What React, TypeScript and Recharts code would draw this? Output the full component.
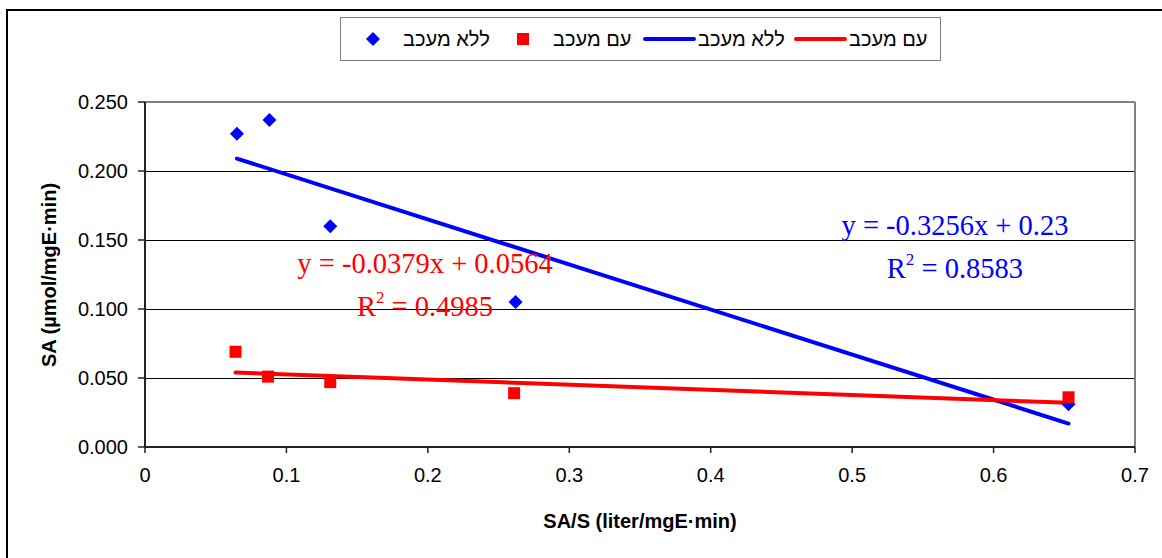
import { ScatterChart, Scatter, XAxis, YAxis, CartesianGrid, ReferenceLine, ReferenceDot } from "recharts";

const labelWithout = "ללא מעכב";
const labelWith = "עם מעכב";

const xTicks = [0, 0.1, 0.2, 0.3, 0.4, 0.5, 0.6, 0.7];
const yTicks = [0, 0.05, 0.1, 0.15, 0.2, 0.25];

// measured points
const noInhibitor = [
  { x: 0.065, y: 0.227 },
  { x: 0.088, y: 0.237 },
  { x: 0.131, y: 0.16 },
  { x: 0.262, y: 0.105 },
  { x: 0.653, y: 0.031 },
];
const withInhibitor = [
  { x: 0.064, y: 0.069 },
  { x: 0.087, y: 0.051 },
  { x: 0.131, y: 0.047 },
  { x: 0.261, y: 0.039 },
  { x: 0.653, y: 0.036 },
];

// trendline end points as drawn
const noInhibitorTrend = [
  { x: 0.065, y: 0.209 },
  { x: 0.653, y: 0.017 },
];
const withInhibitorTrend = [
  { x: 0.064, y: 0.054 },
  { x: 0.653, y: 0.032 },
];

const BLUE = "#0000ff";
const RED = "#ff0000";
const SANS = "'Liberation Sans', Arial, sans-serif";
const SERIF = "'Liberation Serif', 'Times New Roman', serif";

const Diamond = (p: any) => (
  <polygon
    points={`${p.cx},${p.cy - 7} ${p.cx + 7},${p.cy} ${p.cx},${p.cy + 7} ${p.cx - 7},${p.cy}`}
    fill={BLUE}
  />
);
const Square = (p: any) => <rect x={p.cx - 6} y={p.cy - 6} width={12} height={12} fill={RED} />;
const NoDot = () => <g />;

const eqText = (text: string, color: string) => (p: any) => (
  <text x={p.cx} y={p.cy} textAnchor="middle" fill={color} fontFamily={SERIF} fontSize={28.5}>
    {text}
  </text>
);
const r2Text = (value: string, color: string) => (p: any) => (
  <text x={p.cx} y={p.cy} textAnchor="middle" fill={color} fontFamily={SERIF} fontSize={28.5}>
    R
    <tspan fontSize={17} dy={-13}>2</tspan>
    <tspan dy={13}>{` = ${value}`}</tspan>
  </text>
);

const tickStyle = { fontSize: 20, fill: "#000", fontFamily: SANS };

export default function App() {
  return (
    <div style={{ position: "absolute", left: 0, top: 0, width: 1162, height: 558, background: "#fff", overflow: "hidden" }}>
      <div style={{ position: "absolute", left: 6, top: 9, width: 1200, height: 600, border: "2px solid #000" }} />
      <div style={{ position: "absolute", left: 0, top: 0 }}>
        <ScatterChart width={1162} height={558} margin={{ top: 102, right: 27, bottom: 71, left: 65 }}>
          <CartesianGrid vertical={false} stroke="#000" strokeWidth={1} shapeRendering="crispEdges" />
          <XAxis
            type="number"
            dataKey="x"
            domain={[0, 0.7]}
            ticks={xTicks}
            tickFormatter={(v) => (v === 0 ? "0" : v.toFixed(1))}
            tick={tickStyle}
            axisLine={{ stroke: "#222", strokeWidth: 2 }}
            tickLine={{ stroke: "#222", strokeWidth: 1.5 }}
            tickSize={6}
            tickMargin={15}
            height={40}
          />
          <YAxis
            type="number"
            dataKey="y"
            domain={[0, 0.25]}
            ticks={yTicks}
            tickFormatter={(v) => v.toFixed(3)}
            tick={tickStyle}
            axisLine={{ stroke: "#222", strokeWidth: 2 }}
            tickLine={{ stroke: "#222", strokeWidth: 1.5 }}
            tickSize={7}
            tickMargin={10}
            width={80}
          />
          <ReferenceLine y={0.25} stroke="#808080" strokeWidth={2} />
          <ReferenceLine x={0.7} stroke="#808080" strokeWidth={2} />
          <Scatter
            data={noInhibitorTrend}
            line={{ stroke: BLUE, strokeWidth: 4, strokeLinecap: "round" }}
            shape={NoDot}
            isAnimationActive={false}
          />
          <Scatter
            data={withInhibitorTrend}
            line={{ stroke: RED, strokeWidth: 4, strokeLinecap: "round" }}
            shape={NoDot}
            isAnimationActive={false}
          />
          <Scatter data={noInhibitor} shape={Diamond} isAnimationActive={false} />
          <Scatter data={withInhibitor} shape={Square} isAnimationActive={false} />
          <ReferenceDot x={0.198} y={0.1263} r={0} shape={eqText("y = -0.0379x + 0.0564", RED)} />
          <ReferenceDot x={0.198} y={0.0951} r={0} shape={r2Text("0.4985", RED)} />
          <ReferenceDot x={0.5727} y={0.1538} r={0} shape={eqText("y = -0.3256x + 0.23", BLUE)} />
          <ReferenceDot x={0.5727} y={0.1226} r={0} shape={r2Text("0.8583", BLUE)} />
        </ScatterChart>
      </div>
      <svg width={1162} height={558} style={{ position: "absolute", left: 0, top: 0, pointerEvents: "none" }}>
        <text
          transform="translate(49,275) rotate(-90)"
          textAnchor="middle"
          dominantBaseline="central"
          fontFamily={SANS}
          fontWeight="bold"
          fontSize={20}
        >
          SA (µmol/mgE·min)
        </text>
        <text x={640} y={528} textAnchor="middle" fontFamily={SANS} fontWeight="bold" fontSize={20}>
          SA/S (liter/mgE·min)
        </text>
        <rect x={340.5} y={17.5} width={600} height={43} fill="#fff" stroke="#808080" strokeWidth={1} />
        <polygon points="373,32 380,39 373,46 366,39" fill={BLUE} />
        <text x={403} y={39} dominantBaseline="central" fontFamily={SANS} fontSize={20}>{labelWithout}</text>
        <rect x={517} y={33} width={12} height={12} fill={RED} />
        <text x={553} y={39} dominantBaseline="central" fontFamily={SANS} fontSize={20}>{labelWith}</text>
        <line x1={645} y1={39} x2={694} y2={39} stroke={BLUE} strokeWidth={4} strokeLinecap="round" />
        <text x={698} y={39} dominantBaseline="central" fontFamily={SANS} fontSize={20}>{labelWithout}</text>
        <line x1={796} y1={39} x2={845} y2={39} stroke={RED} strokeWidth={4} strokeLinecap="round" />
        <text x={849} y={39} dominantBaseline="central" fontFamily={SANS} fontSize={20}>{labelWith}</text>
      </svg>
    </div>
  );
}
